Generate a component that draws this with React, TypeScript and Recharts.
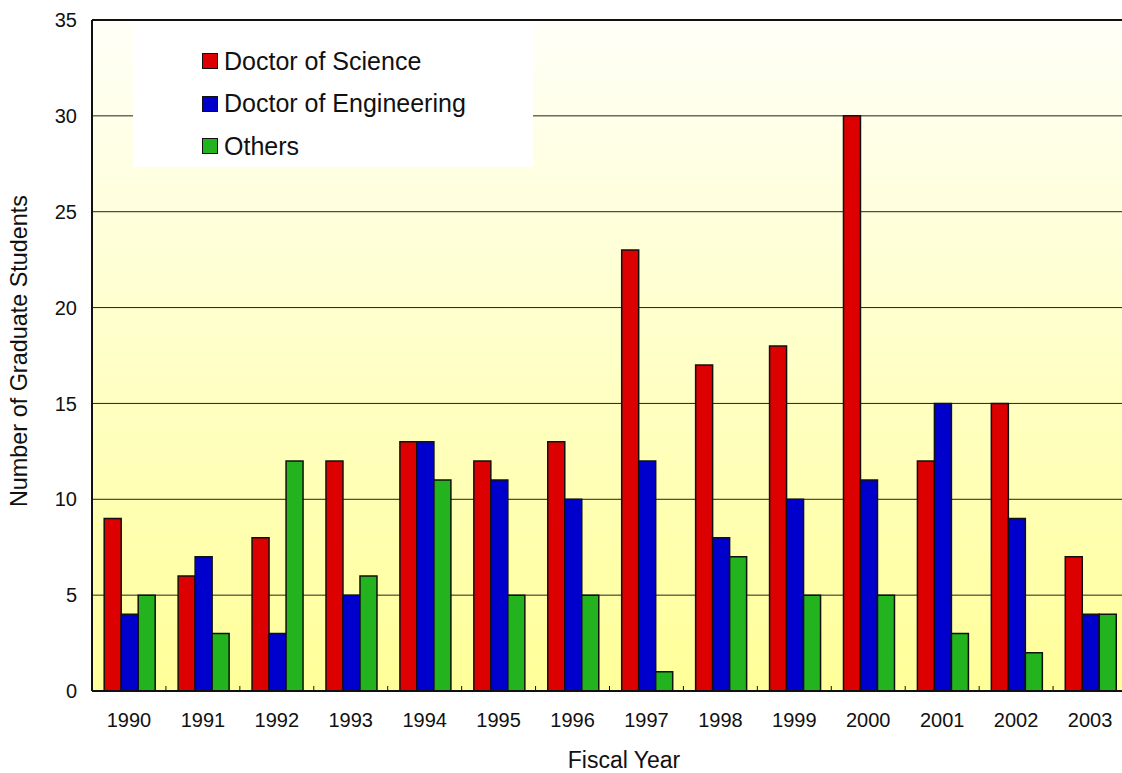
import React from 'react';
import { BarChart, Bar, XAxis, YAxis, CartesianGrid, Legend, Label, ReferenceLine } from 'recharts';

const years = ['1990', '1991', '1992', '1993', '1994', '1995', '1996', '1997', '1998', '1999', '2000', '2001', '2002', '2003'];
const doctorOfScience = [9, 6, 8, 12, 13, 12, 13, 23, 17, 18, 30, 12, 15, 7];
const doctorOfEngineering = [4, 7, 3, 5, 13, 11, 10, 12, 8, 10, 11, 15, 9, 4];
const others = [5, 3, 12, 6, 11, 5, 5, 1, 7, 5, 5, 3, 2, 4];
const yTicks = [0, 5, 10, 15, 20, 25, 30, 35];

const series = [
  { key: 'science', name: 'Doctor of Science', color: '#DD0000' },
  { key: 'engineering', name: 'Doctor of Engineering', color: '#0000CC' },
  { key: 'others', name: 'Others', color: '#22B31E' },
];

const chartData = years.map((year, i) => ({
  year,
  science: doctorOfScience[i],
  engineering: doctorOfEngineering[i],
  others: others[i],
}));

const FONT = '"Liberation Sans", Arial, sans-serif';

function YearTick(props: any) {
  const { x, y, payload } = props;
  const half = payload.offset ?? 37;
  return (
    <g>
      <line x1={x - half} x2={x - half} y1={y} y2={y - 5} stroke="#111" strokeWidth={1} />
      <text x={x} y={y + 36} textAnchor="middle" fontSize={20} fill="#111" fontFamily={FONT}>
        {payload.value}
      </text>
    </g>
  );
}

function LegendBox() {
  return (
    <div style={{ background: '#fff', width: 400, height: 145, paddingTop: 18, boxSizing: 'border-box', fontFamily: FONT }}>
      {series.map(s => (
        <div key={s.key} style={{ height: 42.5, display: 'flex', alignItems: 'center', paddingLeft: 69 }}>
          <span style={{ width: 14, height: 14, background: s.color, border: '1px solid #111', display: 'inline-block' }} />
          <span style={{ marginLeft: 6, fontSize: 25, color: '#111' }}>{s.name}</span>
        </div>
      ))}
    </div>
  );
}

export default function App() {
  return (
    <div style={{ position: 'fixed', left: 0, top: 0, width: 1122, height: 773, overflow: 'hidden', background: '#fff', fontFamily: FONT }}>
      <BarChart
        width={1130}
        height={773}
        data={chartData}
        margin={{ top: 20, right: 3, left: 0, bottom: 0 }}
        barCategoryGap="16.5%"
        barGap={0}
      >
        <defs>
          <linearGradient id="bgGrad" x1="0" y1="0" x2="0" y2="1">
            <stop offset="0%" stopColor="#FFFFF8" />
            <stop offset="100%" stopColor="#FFFF99" />
          </linearGradient>
        </defs>
        <CartesianGrid vertical={false} stroke="#222" fill="url(#bgGrad)" fillOpacity={1} />
        <XAxis
          dataKey="year"
          height={82}
          tickSize={0}
          tickMargin={0}
          tick={<YearTick />}
          axisLine={{ stroke: '#111', strokeWidth: 2 }}
          tickLine={false}
          interval={0}
        >
          <Label
            content={() => (
              <text x={624} y={768} textAnchor="middle" fontSize={23} fill="#111" fontFamily={FONT}>
                Fiscal Year
              </text>
            )}
          />
        </XAxis>
        <YAxis
          width={92}
          domain={[0, 35]}
          ticks={yTicks}
          tickSize={0}
          tickMargin={15}
          tickLine={false}
          tick={{ fontSize: 20, fill: '#111', fontFamily: FONT }}
          axisLine={{ stroke: '#111', strokeWidth: 2 }}
        >
          <Label
            content={() => (
              <text x={27} y={351} transform="rotate(-90 27 351)" textAnchor="middle" fontSize={23.4} fill="#111" fontFamily={FONT}>
                Number of Graduate Students
              </text>
            )}
          />
        </YAxis>
        <ReferenceLine y={35} stroke="#111" strokeWidth={2} />
        <Legend
          layout="vertical"
          align="center"
          verticalAlign="middle"
          wrapperStyle={{ left: 133, top: 22, width: 400, height: 145 }}
          content={() => <LegendBox />}
        />
        {series.map(s => (
          <Bar key={s.key} dataKey={s.key} name={s.name} fill={s.color} stroke="#111" strokeWidth={1.5} isAnimationActive={false} />
        ))}
      </BarChart>
    </div>
  );
}
